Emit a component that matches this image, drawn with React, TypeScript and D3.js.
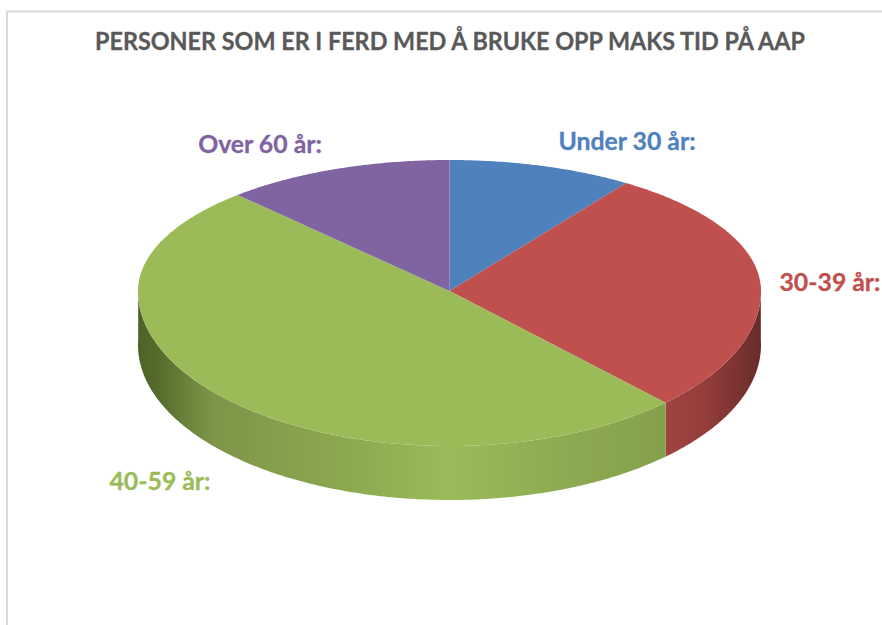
import React from "react";
import * as d3 from "d3";

const categories = ["Under 30 år:", "30-39 år:", "40-59 år:", "Over 60 år:"];
const values = [9.6, 28.2, 50.3, 11.9];
const topColors = ["#4f81bd", "#c0504d", "#9bbb59", "#8064a2"];
const labelX = [627, 830, 160, 260];
const labelY = [150, 291, 490, 153];
const title = "PERSONER SOM ER I FERD MED Å BRUKE OPP MAKS TID PÅ AAP";

const W = 882, H = 625;
const cx = 449.5, cy = 291, rx = 311.5, ryBack = 131, ryFront = 155, depth = 54;

const project = (a: number): [number, number] => {
  const c = Math.cos(a);
  return [cx + rx * Math.sin(a), cy - c * (c > 0 ? ryBack : ryFront)];
};

const pieGen = d3.pie<number>().sort(null).startAngle(0).endAngle(2 * Math.PI);
const arcs = pieGen(values);
const lineGen = d3.line<[number, number]>();

const samples = (a0: number, a1: number) => {
  const n = Math.max(2, Math.ceil((a1 - a0) / 0.01));
  return d3.range(n + 1).map((i) => project(a0 + ((a1 - a0) * i) / n));
};

const topPath = (a0: number, a1: number) => {
  const pts = samples(a0, a1);
  return (lineGen([[cx, cy], ...pts]) as string) + "Z";
};

const sidePath = (a0: number, a1: number) => {
  const lo = Math.max(a0, Math.PI / 2 - 0.035);
  const hi = Math.min(a1, (3 * Math.PI) / 2 + 0.035);
  if (hi <= lo) return null;
  const front = samples(lo, hi);
  const back = front.map(([x, y]) => [x, y + depth] as [number, number]).reverse();
  return (lineGen([...front, ...back]) as string) + "Z";
};

const greenStops: [number, string][] = [
  [138, "#4f6228"], [160, "#566c2c"], [195, "#718a40"], [215, "#7d9548"], [280, "#84a04c"],
  [360, "#8dab50"], [450, "#9bbb59"], [560, "#8dab52"], [666, "#84a04c"],
];
const redStops: [number, string][] = [
  [666, "#a04341"], [705, "#943e3c"], [735, "#7d3432"], [761, "#672c2a"],
];
const gradients = [
  { id: "sideRed", stops: redStops, index: 1 },
  { id: "sideGreen", stops: greenStops, index: 2 },
];

export default function App() {
  return (
    <svg
      width={W}
      height={H}
      viewBox={`0 0 ${W} ${H}`}
      style={{ position: "absolute", left: 0, top: 0, background: "#fff" }}
    >
      <defs>
        {gradients.map((g) => {
          const x0 = g.stops[0][0];
          const x1 = g.stops[g.stops.length - 1][0];
          const offset = d3.scaleLinear().domain([x0, x1]).range([0, 1]);
          return (
            <linearGradient key={g.id} id={g.id} gradientUnits="userSpaceOnUse" x1={x0} x2={x1} y1={0} y2={0}>
              {g.stops.map(([x, c]) => (
                <stop key={x} offset={offset(x)} stopColor={c} />
              ))}
            </linearGradient>
          );
        })}
      </defs>
      <path d={`M7 ${H}V11.5H${W}`} fill="none" stroke="#d9d9d9" strokeWidth={2} />
      <text
        x={450}
        y={50}
        textAnchor="middle"
        fontFamily="Lato, 'Open Sans', sans-serif"
        fontWeight={700}
        fontSize={24}
        fill="#595959"
        stroke="#595959"
        strokeWidth={0.3}
        textLength={710}
        lengthAdjust="spacingAndGlyphs"
      >
        {title}
      </text>
      {arcs.map((d, i) => {
        const g = gradients.find((x) => x.index === i);
        const p = sidePath(d.startAngle, d.endAngle);
        return p && g ? <path key={i} d={p} fill={`url(#${g.id})`} /> : null;
      })}
      {arcs.map((d, i) => (
        <path key={i} d={topPath(d.startAngle, d.endAngle)} fill={topColors[i]} />
      ))}
      {arcs.map((d, i) => (
        <text
          key={i}
          x={labelX[i]}
          y={labelY[i]}
          textAnchor="middle"
          fontFamily="Lato, 'Open Sans', sans-serif"
          fontWeight={700}
          fontSize={24.8}
          fill={topColors[i]}
          stroke={topColors[i]}
          strokeWidth={0.3}
        >
          {categories[i]}
        </text>
      ))}
    </svg>
  );
}
